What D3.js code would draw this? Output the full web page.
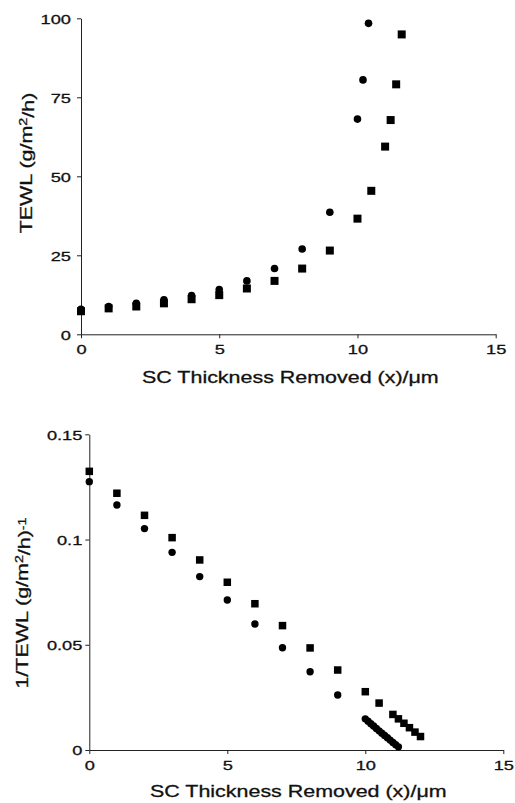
<!DOCTYPE html>
<html>
<head>
<meta charset="utf-8">
<script src="https://cdn.jsdelivr.net/npm/d3@7"></script>
<style>
  body { margin: 0; background: #fff; }
  text { font-family: "Liberation Sans", Arial, sans-serif; fill: #111; stroke: #111; stroke-width: 0.3px; }
</style>
</head>
<body>
<script>
// TEWL vs SC thickness removed, two panels

// top panel: TEWL
var topCircX = [0, 1, 2, 3, 4, 5, 6, 7, 8, 9, 10, 10.2, 10.4];
var topCircY = [7.9, 8.8, 9.8, 10.9, 12.3, 14.2, 16.9, 20.8, 27.0, 38.6, 68.1, 80.5, 98.4];
var topSqX = [0, 1, 2, 3, 4, 5, 6, 7, 8, 9, 10, 10.5, 11, 11.2, 11.4, 11.6];
var topSqY = [7.3, 8.2, 8.8, 9.8, 11.1, 12.4, 14.5, 16.9, 20.8, 26.5, 36.6, 45.4, 59.4, 67.8, 79.1, 94.9];
var topYTicks = [0, 25, 50, 75, 100];

// bottom panel: 1/TEWL
var botCircX = [0, 1, 2, 3, 4, 5, 6, 7, 8, 9, 10, 10.1, 10.2, 10.3, 10.4, 10.5, 10.6, 10.7, 10.8, 10.9, 11, 11.1, 11.2];
var botCircY = [0.1275, 0.1164, 0.1052, 0.0939, 0.0824, 0.0713, 0.0599, 0.0486, 0.0372, 0.0261,
                0.0148, 0.0137, 0.0125, 0.0114, 0.0102, 0.0091, 0.0080, 0.0069, 0.0058, 0.0047, 0.0036, 0.0025, 0.0015];
var botSqX = [0, 1, 2, 3, 4, 5, 6, 7, 8, 9, 10, 10.5, 11, 11.2, 11.4, 11.6, 11.8, 12];
var botSqY = [0.1324, 0.1220, 0.1115, 0.1009, 0.0903, 0.0797, 0.0695, 0.0591, 0.0485, 0.0380,
              0.0277, 0.0223, 0.0169, 0.0148, 0.0127, 0.0106, 0.0085, 0.0064];
var botYTicks = [0, 0.05, 0.1, 0.15];
var botYLabels = ["0", "0.05", "0.1", "0.15"];

var xTicks = [0, 5, 10, 15];

var svg = d3.select("body").append("svg")
  .attr("width", 515)
  .attr("height", 803);

function zip(xs, ys) {
  return xs.map(function (x, i) { return { x: x, y: ys[i] }; });
}

function drawPanel(o) {
  var x = d3.scaleLinear().domain([0, 15]).range([o.left, o.right]);
  var y = d3.scaleLinear().domain([0, o.ymax]).range([o.bottom, o.top]);
  var g = svg.append("g");

  var xAxis = g.append("g")
    .attr("transform", "translate(0," + o.bottom + ")")
    .call(d3.axisBottom(x).tickValues(xTicks).tickSize(4).tickSizeOuter(0).tickPadding(6));
  var yAxis = g.append("g")
    .attr("transform", "translate(" + o.left + ",0)")
    .call(d3.axisLeft(y).tickValues(o.yTicks).tickFormat(function (d, i) { return o.yLabels[i]; })
      .tickSize(4).tickSizeOuter(0).tickPadding(0));
  [xAxis, yAxis].forEach(function (a) {
    a.selectAll("text").style("font-size", "13.5px").attr("fill", "#111");
    a.selectAll("line, path").attr("stroke", "#222");
  });
  // wide lettering, like the scanned original
  xAxis.selectAll("text").attr("transform", "scale(1.35,1)");
  yAxis.selectAll("text")
    .attr("x", 0).attr("dy", "0.36em")
    .attr("transform", "translate(" + (-o.yGap) + ",0) scale(1.35,1)");

  g.append("g")
    .attr("transform", "translate(" + ((o.left + o.right) / 2 + 2) + "," + o.xTitleY + ") scale(1.3,1)")
    .append("text")
    .attr("text-anchor", "middle")
    .style("font-size", "16.5px")
    .text("SC Thickness Removed (x)/\u03bcm");

  var yt = g.append("text")
    .attr("transform", "translate(" + o.yTitleX + "," + o.yTitleCY + ") rotate(-90) scale(1.3,1)")
    .attr("text-anchor", "middle")
    .style("font-size", "16.5px");
  o.yTitle(yt);

  g.selectAll(".sq").data(zip(o.sqX, o.sqY)).enter().append("rect")
    .attr("x", function (d) { return x(d.x) - o.sq / 2; })
    .attr("y", function (d) { return y(d.y) - o.sq / 2; })
    .attr("width", o.sq)
    .attr("height", o.sq)
    .attr("fill", "#000");

  g.selectAll(".ci").data(zip(o.ciX, o.ciY)).enter().append("circle")
    .attr("cx", function (d) { return x(d.x); })
    .attr("cy", function (d) { return y(d.y); })
    .attr("r", o.r)
    .attr("fill", "#000");
}

drawPanel({
  left: 81, right: 495.7, top: 18.3, bottom: 334.3, ymax: 100,
  yTicks: topYTicks, yLabels: topYTicks.map(String), yGap: 10,
  xTitleY: 383, yTitleX: 32, yTitleCY: 163,
  yTitle: function (t) {
    t.append("tspan").text("TEWL (g/m");
    t.append("tspan").attr("dy", "-0.45em").style("font-size", "11px").text("2");
    t.append("tspan").attr("dy", "0.45em").text("/h)");
  },
  sqX: topSqX, sqY: topSqY, ciX: topCircX, ciY: topCircY, sq: 8, r: 3.8
});

drawPanel({
  left: 89.3, right: 503.3, top: 434.3, bottom: 750, ymax: 0.15,
  yTicks: botYTicks, yLabels: botYLabels, yGap: 7,
  xTitleY: 797, yTitleX: 28, yTitleCY: 603,
  yTitle: function (t) {
    t.append("tspan").text("1/TEWL  (g/m");
    t.append("tspan").attr("dy", "-0.45em").style("font-size", "11px").text("2");
    t.append("tspan").attr("dy", "0.45em").text("/h)");
    t.append("tspan").attr("dy", "-0.45em").style("font-size", "11px").text("-1");
  },
  sqX: botSqX, sqY: botSqY, ciX: botCircX, ciY: botCircY, sq: 7.5, r: 3.7
});
</script>
</body>
</html>
